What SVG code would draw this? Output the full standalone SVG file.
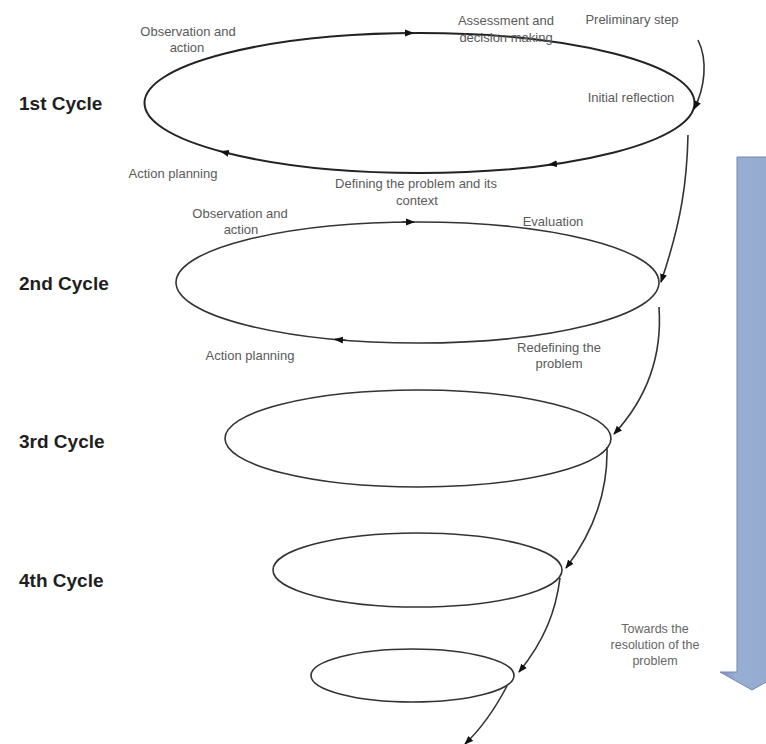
<svg xmlns="http://www.w3.org/2000/svg" width="766" height="744" viewBox="0 0 766 744">
<style>
.cyc{fill:none;stroke:#333;stroke-width:1.6}
.c1{stroke:#222;stroke-width:2}
.con{fill:none;stroke:#333;stroke-width:1.6;marker-end:url(#arr)}
.lab{font-family:"Liberation Sans",Arial,sans-serif;font-size:13px;fill:#5a5a5a;text-anchor:middle}
.big{font-family:"Liberation Sans",Arial,sans-serif;font-size:19px;font-weight:bold;fill:#1e1e1e}
.tow{font-family:"Liberation Sans",Arial,sans-serif;font-size:12.5px;fill:#666;text-anchor:middle}
</style>
<defs>
<marker id="arr" markerUnits="userSpaceOnUse" markerWidth="10" markerHeight="8" refX="8" refY="4" orient="auto">
<path d="M0,0.5 L9,4 L0,7.5 z" fill="#111"/>
</marker>
<linearGradient id="bl" x1="0" y1="0" x2="1" y2="0">
<stop offset="0" stop-color="#7d95bc"/>
<stop offset="0.25" stop-color="#98aed2"/>
<stop offset="1" stop-color="#93a9cd"/>
</linearGradient>
</defs>
<rect width="766" height="744" fill="#fff"/>

<g id="cycle1">
<ellipse class="cyc c1" cx="419.5" cy="103" rx="275" ry="70"/>
<path class="con" d="M400,33 L413,33"/>
<path class="con" d="M560,163.2 L549,164.7"/>
<path class="con" d="M232,154.2 L221,151.4"/>
<text class="big" x="19" y="110">1st Cycle</text>
</g>
<g id="cycle2">
<ellipse class="cyc" cx="417.5" cy="282.5" rx="241.5" ry="60.5"/>
<path class="con" d="M402,222 L414,222"/>
<path class="con" d="M346,340.3 L335,339.4"/>
<text class="big" x="19" y="290">2nd Cycle</text>
</g>
<g id="cycle3">
<ellipse class="cyc" cx="418" cy="438.5" rx="193" ry="48.5"/>
<text class="big" x="19" y="448">3rd Cycle</text>
</g>
<g id="cycle4">
<ellipse class="cyc" cx="417.5" cy="570" rx="144.5" ry="37"/>
<text class="big" x="19" y="587">4th Cycle</text>
</g>
<g id="cycle5">
<ellipse class="cyc" cx="412.5" cy="675.5" rx="101.5" ry="26.5"/>
</g>

<g id="connectors">
<path class="con" d="M698,40 C708,60 705,88 694,109"/>
<path class="con" d="M688,135 C687,180 682,220 661,282"/>
<path class="con" d="M659,307 C662,350 650,395 614,434"/>
<path class="con" d="M607,447 C608,490 595,530 566,568"/>
<path class="con" d="M560,578 C556,610 545,640 519,672"/>
<path class="con" d="M507,686 C497,705 485,725 465,744"/>
</g>

<g id="labels">
<text class="lab" x="188" y="36">Observation and</text>
<text class="lab" x="187" y="52">action</text>
<text class="lab" x="506" y="25">Assessment and</text>
<text class="lab" x="506" y="42">decision making</text>
<text class="lab" x="632" y="24">Preliminary step</text>
<text class="lab" x="631" y="102">Initial reflection</text>
<text class="lab" x="173" y="178">Action planning</text>
<text class="lab" x="416" y="188">Defining the problem and its</text>
<text class="lab" x="417" y="205">context</text>
<text class="lab" x="240" y="218">Observation and</text>
<text class="lab" x="241" y="234">action</text>
<text class="lab" x="553" y="226">Evaluation</text>
<text class="lab" x="250" y="360">Action planning</text>
<text class="lab" x="559" y="352">Redefining the</text>
<text class="lab" x="559" y="368">problem</text>
</g>

<g id="progress">
<polygon points="737,157 767,157 767,672 784,672 752,690 720,672 737,672" fill="url(#bl)" stroke="#7189b0" stroke-width="1"/>
<text class="tow" x="655" y="633">Towards the</text>
<text class="tow" x="655" y="649">resolution of the</text>
<text class="tow" x="655" y="665">problem</text>
</g>
</svg>
